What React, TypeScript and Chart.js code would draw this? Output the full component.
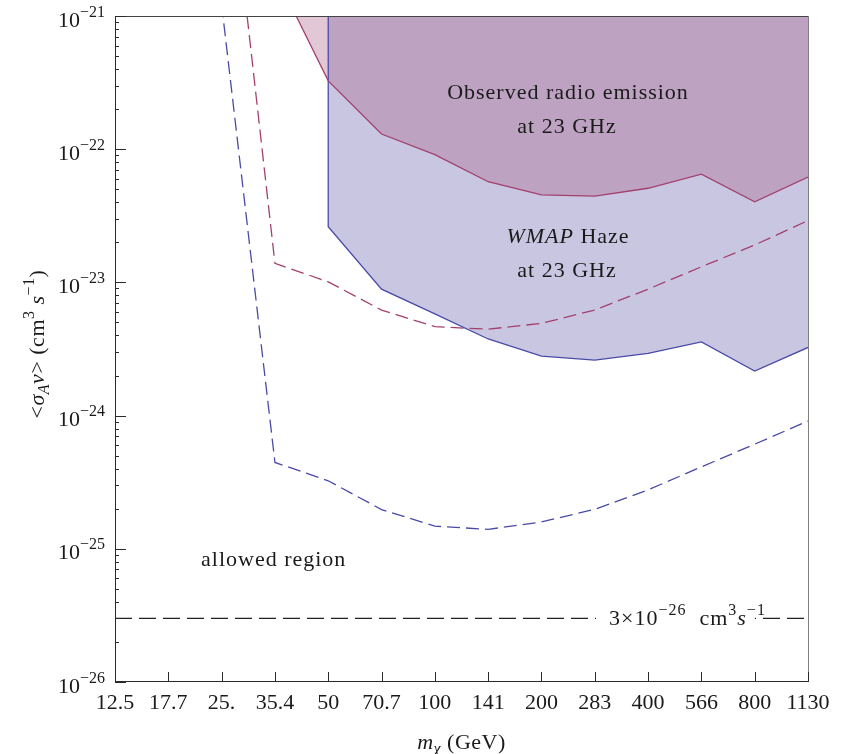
import React, { useEffect, useRef } from 'react';
import { Chart, registerables } from 'chart.js';

Chart.register(...registerables);

// ---------- data ----------
const massTicks = [12.5, 17.68, 25, 35.36, 50, 70.71, 100, 141.42, 200, 282.84, 400, 565.69, 800, 1131.37];
const massTickLabels = ['12.5', '17.7', '25.', '35.4', '50', '70.7', '100', '141', '200', '283', '400', '566', '800', '1130'];
const yTickExponents = [-26, -25, -24, -23, -22, -21];

// Observed radio emission at 23 GHz (solid red boundary, region above)
const radioMass = [35.36, 50, 70.71, 100, 141.42, 200, 282.84, 400, 565.69, 800, 1131.37];
const radioSigma = [2.1e-21, 3.26e-22, 1.3e-22, 9.1e-23, 5.7e-23, 4.54e-23, 4.45e-23, 5.09e-23, 6.49e-23, 4.03e-23, 6.17e-23];

// WMAP Haze at 23 GHz (solid blue boundary, region above)
const hazeMass = [50, 50, 70.71, 100, 141.42, 200, 282.84, 400, 565.69, 800, 1131.37];
const hazeSigma = [1e-20, 2.62e-23, 8.9e-24, 5.8e-24, 3.76e-24, 2.8e-24, 2.61e-24, 2.93e-24, 3.58e-24, 2.16e-24, 3.25e-24];

// dashed red curve
const radioDashMass = [25, 35.36, 50, 70.71, 100, 141.42, 200, 282.84, 400, 565.69, 800, 1131.37];
const radioDashSigma = [5e-20, 1.39e-23, 1.01e-23, 6.2e-24, 4.65e-24, 4.45e-24, 4.93e-24, 6.2e-24, 8.9e-24, 1.31e-23, 1.91e-23, 2.91e-23];

// dashed blue curve
const hazeDashMass = [25, 35.36, 50, 70.71, 100, 141.42, 200, 282.84, 400, 565.69, 800, 1131.37];
const hazeDashSigma = [1.22e-21, 4.45e-25, 3.24e-25, 1.97e-25, 1.48e-25, 1.4e-25, 1.59e-25, 1.98e-25, 2.77e-25, 4.12e-25, 6.1e-25, 9.1e-25];

// thermal cross-section
const thermalMass = [12.5, 1131.37];
const thermalSigma = [3e-26, 3e-26];

// ---------- styling ----------
const FAMILY = "'Liberation Serif', 'Times New Roman', serif";
const BLUE = '#4a4aa6';
const RED = '#a3406f';
const TEXT = '#1a1a1a';

type Seg = { t: string; it?: boolean; s?: number; dy?: number };

function fontStr(size: number, italic?: boolean) {
  return `${italic ? 'italic ' : ''}${size}px ${FAMILY}`;
}

function measureRich(ctx: CanvasRenderingContext2D, segs: Seg[], base: number, spacing: number) {
  return segs.map((sg) => {
    ctx.font = fontStr(sg.s ?? base, sg.it);
    (ctx as any).letterSpacing = spacing + 'px';
    return ctx.measureText(sg.t).width;
  });
}

function drawRich(
  ctx: CanvasRenderingContext2D,
  segs: Seg[],
  x: number,
  y: number,
  align: 'left' | 'center' | 'right',
  base: number,
  spacing = 0
) {
  const ws = measureRich(ctx, segs, base, spacing);
  const total = ws.reduce((a, b) => a + b, 0);
  let cx = align === 'left' ? x : align === 'center' ? x - total / 2 : x - total;
  ctx.textAlign = 'left';
  ctx.textBaseline = 'alphabetic';
  segs.forEach((sg, i) => {
    ctx.font = fontStr(sg.s ?? base, sg.it);
    (ctx as any).letterSpacing = spacing + 'px';
    ctx.fillText(sg.t, cx, y + (sg.dy ?? 0));
    cx += ws[i];
  });
  (ctx as any).letterSpacing = '0px';
  return total;
}

const overlay = {
  id: 'overlay',
  afterDatasetsDraw(chart: any) {
    const { ctx, chartArea: a, scales } = chart;
    const xs = scales.x;
    const ys = scales.y;
    ctx.save();

    // thermal label background + label
    const thY = ys.getPixelForValue(thermalSigma[0]);
    const thSegs: Seg[] = [
      { t: '3×10' },
      { t: '−26', s: 16, dy: -10 },
      { t: '  cm' },
      { t: '3', s: 16, dy: -10 },
      { t: 's', it: true },
      { t: '−1', s: 16, dy: -10 },
    ];
    const thX = a.left + 494;
    const thW = measureRich(ctx, thSegs, 22, 1).reduce((p, q) => p + q, 0);
    (ctx as any).letterSpacing = '0px';
    ctx.fillStyle = '#ffffff';
    ctx.fillRect(thX - 13, thY - 4, thW + 2, 8);
    ctx.fillStyle = TEXT;
    drawRich(ctx, thSegs, thX, thY + 7, 'left', 22, 1);

    // frame
    ctx.lineWidth = 1;
    ctx.strokeStyle = '#444';
    ctx.beginPath();
    ctx.moveTo(a.left, a.top + 0.5);
    ctx.lineTo(a.right + 1, a.top + 0.5);
    ctx.stroke();
    ctx.strokeStyle = '#808080';
    ctx.beginPath();
    ctx.moveTo(a.right + 0.5, a.top);
    ctx.lineTo(a.right + 0.5, a.bottom);
    ctx.stroke();
    ctx.strokeStyle = '#2a2a2a';
    ctx.beginPath();
    ctx.moveTo(a.left + 0.5, a.top);
    ctx.lineTo(a.left + 0.5, a.bottom);
    ctx.moveTo(a.left, a.bottom - 0.5);
    ctx.lineTo(a.right + 1, a.bottom - 0.5);
    ctx.stroke();

    // x ticks (inward)
    ctx.beginPath();
    massTicks.forEach((m) => {
      const px = Math.round(xs.getPixelForValue(m)) + 0.5;
      ctx.moveTo(px, a.bottom);
      ctx.lineTo(px, a.bottom - 10);
    });
    ctx.stroke();

    // y ticks (inward), major + minor
    ctx.beginPath();
    yTickExponents.forEach((e) => {
      const py = Math.round(ys.getPixelForValue(Math.pow(10, e))) + 0.5;
      ctx.moveTo(a.left, py);
      ctx.lineTo(a.left + 11, py);
      if (e < yTickExponents[yTickExponents.length - 1]) {
        for (let k = 2; k <= 9; k++) {
          const pm = Math.round(ys.getPixelForValue(k * Math.pow(10, e))) + 0.5;
          ctx.moveTo(a.left, pm);
          ctx.lineTo(a.left + 4, pm);
        }
      }
    });
    ctx.stroke();

    // y tick labels 10^n
    ctx.fillStyle = TEXT;
    yTickExponents.forEach((e) => {
      const py = ys.getPixelForValue(Math.pow(10, e));
      drawRich(
        ctx,
        [{ t: '10' }, { t: '−' + Math.abs(e), s: 16, dy: -10 }],
        a.left - 10,
        py + 10.5,
        'right',
        22
      );
    });

    // annotations
    drawRich(ctx, [{ t: 'Observed radio emission' }], a.left + 453, a.top + 83, 'center', 22, 1);
    drawRich(ctx, [{ t: 'at 23 GHz' }], a.left + 452, a.top + 117, 'center', 22, 1);
    drawRich(ctx, [{ t: 'WMAP', it: true }, { t: ' Haze' }], a.left + 453, a.top + 227, 'center', 22, 1);
    drawRich(ctx, [{ t: 'at 23 GHz' }], a.left + 452, a.top + 261, 'center', 22, 1);
    drawRich(ctx, [{ t: 'allowed region' }], a.left + 86, a.top + 550, 'left', 22, 1);

    // x axis title
    drawRich(
      ctx,
      [{ t: 'm', it: true }, { t: 'χ', it: true, s: 16, dy: 5 }, { t: ' (GeV)' }],
      (a.left + a.right) / 2,
      a.bottom + 67,
      'center',
      22,
      0.5
    );

    // y axis title (rotated)
    ctx.save();
    ctx.translate(43.5, 344);
    ctx.rotate(-Math.PI / 2);
    drawRich(
      ctx,
      [
        { t: '<' },
        { t: 'σ', it: true },
        { t: 'A', it: true, s: 16, dy: 5 },
        { t: 'v', it: true },
        { t: '> (cm' },
        { t: '3', s: 16, dy: -10 },
        { t: ' ' },
        { t: 's', it: true },
        { t: '−1', s: 16, dy: -10 },
        { t: ')' },
      ],
      0,
      0,
      'center',
      22,
      0.5
    );
    ctx.restore();

    ctx.restore();
  },
};

function pts(xs: number[], ys: number[]) {
  return xs.map((x, i) => ({ x, y: ys[i] }));
}

export default function App() {
  const ref = useRef<HTMLCanvasElement>(null);

  useEffect(() => {
    const chart = new Chart(ref.current as HTMLCanvasElement, {
      type: 'line',
      data: {
        datasets: [
          {
            label: 'Observed radio emission at 23 GHz',
            data: pts(radioMass, radioSigma),
            borderColor: RED,
            borderWidth: 1.3,
            backgroundColor: 'rgba(167, 88, 130, 0.33)',
            fill: 'end',
            pointRadius: 0,
            tension: 0,
          },
          {
            label: 'WMAP Haze at 23 GHz',
            data: pts(hazeMass, hazeSigma),
            borderColor: BLUE,
            borderWidth: 1.3,
            backgroundColor: 'rgba(88, 82, 164, 0.33)',
            fill: 'end',
            pointRadius: 0,
            tension: 0,
          },
          {
            label: 'radio projected',
            data: pts(radioDashMass, radioDashSigma),
            borderColor: RED,
            borderWidth: 1.3,
            borderDash: [13, 6],
            fill: false,
            pointRadius: 0,
            tension: 0,
          },
          {
            label: 'haze projected',
            data: pts(hazeDashMass, hazeDashSigma),
            borderColor: BLUE,
            borderWidth: 1.3,
            borderDash: [13, 6],
            fill: false,
            pointRadius: 0,
            tension: 0,
          },
          {
            label: 'thermal',
            data: pts(thermalMass, thermalSigma),
            borderColor: '#222',
            borderWidth: 1.3,
            borderDash: [17, 7],
            fill: false,
            pointRadius: 0,
            tension: 0,
          },
        ],
      },
      options: {
        animation: false,
        responsive: false,
        devicePixelRatio: 1,
        layout: { padding: { top: 16, right: 36, bottom: 0, left: 0 } },
        plugins: {
          legend: { display: false },
          tooltip: { enabled: false },
          filler: { drawTime: 'beforeDatasetsDraw' },
        },
        scales: {
          x: {
            type: 'logarithmic',
            min: massTicks[0],
            max: massTicks[massTicks.length - 1],
            afterBuildTicks: (s: any) => {
              s.ticks = massTicks.map((v) => ({ value: v }));
            },
            ticks: {
              callback: (_v: any, i: number) => massTickLabels[i],
              font: { family: FAMILY, size: 22 },
              color: TEXT,
              padding: 8,
              maxRotation: 0,
              minRotation: 0,
              autoSkip: false,
            },
            grid: { display: false, drawTicks: false },
            border: { display: false },
            afterFit: (s: any) => {
              s.height = 72;
              s.paddingLeft = 0;
              s.paddingRight = 0;
            },
          },
          y: {
            type: 'logarithmic',
            min: 1e-26,
            max: 1e-21,
            ticks: { display: false },
            grid: { display: false, drawTicks: false },
            border: { display: false },
            afterFit: (s: any) => {
              s.width = 115;
              s.paddingTop = 0;
              s.paddingBottom = 0;
            },
          },
        },
      } as any,
      plugins: [overlay],
    });
    return () => chart.destroy();
  }, []);

  return (
    <div style={{ position: 'absolute', left: 0, top: 0, width: 844, height: 754, background: '#fff' }}>
      <canvas ref={ref} width={844} height={754} style={{ display: 'block' }} />
    </div>
  );
}
